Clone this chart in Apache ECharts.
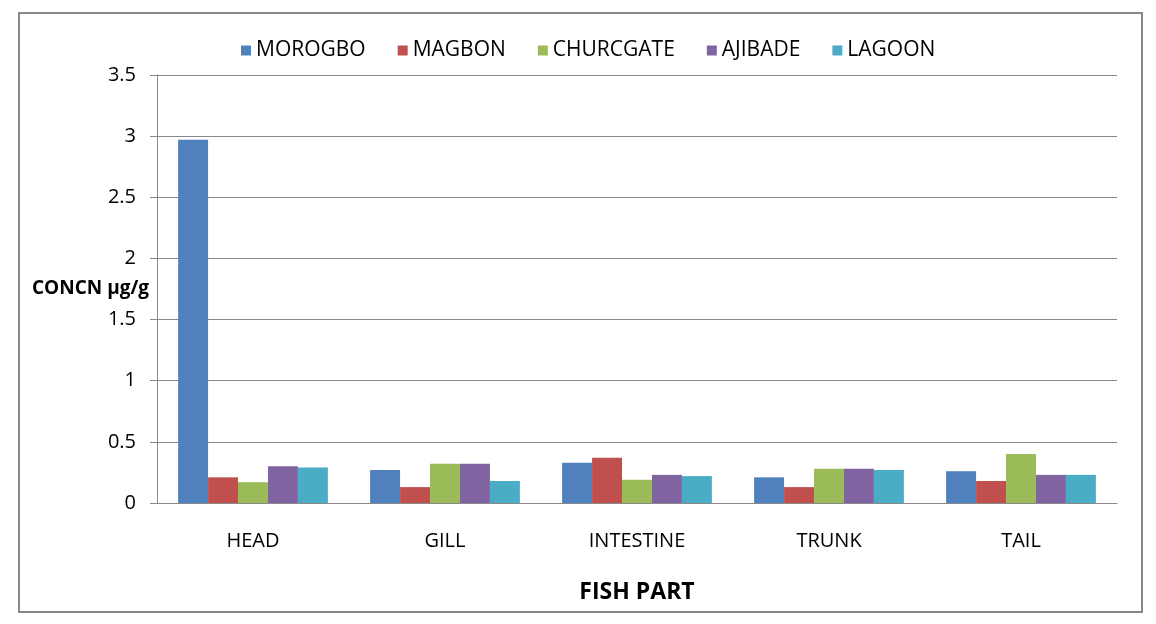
<!DOCTYPE html>
<html>
<head>
<meta charset="utf-8">
<script src="https://cdn.jsdelivr.net/npm/echarts@6/dist/echarts.min.js"></script>
<style>
  html, body { margin: 0; padding: 0; background: #fff; }
  #main { width: 1156px; height: 624px; }
</style>
</head>
<body>
<div id="main"></div>
<script>
// 数据
var parts = ["HEAD", "GILL", "INTESTINE", "TRUNK", "TAIL"];
var morogbo = [2.97, 0.27, 0.33, 0.21, 0.26];
var magbon = [0.21, 0.13, 0.37, 0.13, 0.18];
var churcgate = [0.17, 0.32, 0.19, 0.28, 0.40];
var ajibade = [0.30, 0.32, 0.23, 0.28, 0.23];
var lagoon = [0.29, 0.18, 0.22, 0.27, 0.23];

var names = ["MOROGBO", "MAGBON", "CHURCGATE", "AJIBADE", "LAGOON"];
var colors = ["#4F81BD", "#C0504D", "#9BBB59", "#8064A2", "#4BACC6"];
var values = [morogbo, magbon, churcgate, ajibade, lagoon];

var font = "'Open Sans', 'Noto Sans', sans-serif";
var gray = "#888888";

var myChart = echarts.init(document.getElementById("main"));
myChart.setOption({
  animation: false,
  color: colors,
  textStyle: { fontFamily: font },
  graphic: [
    {
      type: "rect",
      shape: { x: 19, y: 13, width: 1123, height: 599 },
      style: { fill: "none", stroke: gray, lineWidth: 2 },
      z: -1
    }
  ],
  legend: {
    left: 236,
    top: 35,
    itemWidth: 10,
    itemHeight: 10,
    itemGap: 32,
    icon: "rect",
    textStyle: { fontSize: 21, color: "#000", fontFamily: font },
    data: names
  },
  grid: {
    left: 157,
    right: 39,
    top: 75,
    bottom: 121,
    containLabel: false,
    outerBoundsMode: "none"
  },
  xAxis: {
    type: "category",
    data: parts,
    name: "FISH PART",
    nameLocation: "middle",
    nameGap: 78,
    nameTextStyle: { fontSize: 23, fontWeight: "bold", color: "#000", fontFamily: font },
    axisLine: { lineStyle: { color: gray, width: 1 } },
    axisTick: { length: 7, lineStyle: { color: gray } },
    axisLabel: { fontSize: 20, color: "#000", margin: 28, fontFamily: font }
  },
  yAxis: {
    type: "value",
    min: 0,
    max: 3.5,
    interval: 0.5,
    name: "CONCN µg/g",
    nameLocation: "middle",
    nameRotate: 0,
    nameGap: 8,
    nameMoveOverlap: false,
    nameTextStyle: { fontSize: 19, fontWeight: "bold", color: "#000", fontFamily: font, align: "right", padding: [6, 0, 0, 0] },
    axisLine: { show: true, lineStyle: { color: gray, width: 1 } },
    axisTick: { show: true, length: 7, inside: false, lineStyle: { color: gray } },
    splitLine: { lineStyle: { color: gray, width: 1 } },
    axisLabel: { fontSize: 20, color: "#000", margin: 21, fontFamily: font }
  },
  series: names.map(function (n, i) {
    return {
      name: n,
      type: "bar",
      data: values[i],
      barGap: "0%",
      barCategoryGap: "22%",
      itemStyle: { color: colors[i] }
    };
  })
});

window.addEventListener("resize", function () {
  myChart.resize();
});
</script>
</body>
</html>
